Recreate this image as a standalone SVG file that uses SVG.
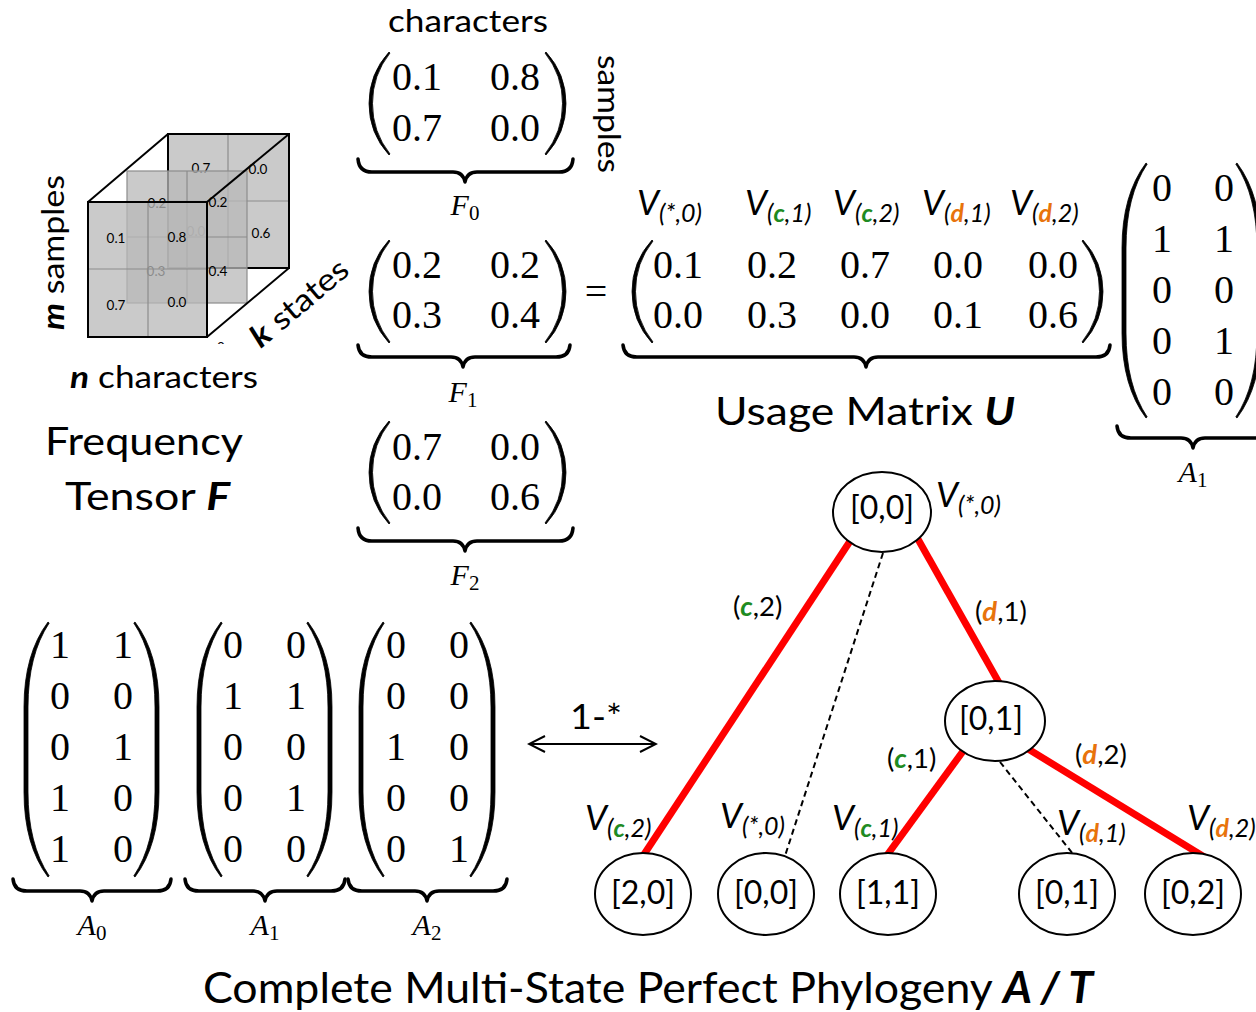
<svg xmlns="http://www.w3.org/2000/svg" xmlns:xlink="http://www.w3.org/1999/xlink" width="1256" height="1012" viewBox="0 0 1256 1012">
<style>
  text { fill: #000; }
  .s { font-family: Lato, "Open Sans", sans-serif; }
  .num { font-family: "Liberation Serif", serif; font-size: 40px; text-anchor: middle; }
  .lab { font-family: "Liberation Serif", serif; font-style: italic; font-size: 30px; text-anchor: middle; }
  .lab .sb { font-style: normal; font-size: 21px; }
  .v { font-family: Lato, "Open Sans", sans-serif; font-style: italic; font-size: 35px; }
  .v .sb { font-size: 25px; }
  .cg { fill: #1e8b22; font-weight: bold; font-style: italic; }
  .do { fill: #e8730c; font-weight: bold; font-style: italic; }
  .bi { font-weight: bold; font-style: italic; }
  .edge { font-family: Lato, "Open Sans", sans-serif; font-size: 27.5px; }
  .red { stroke: #ff0000; stroke-width: 7; fill: none; }
  .dash { stroke: #000; stroke-width: 2; stroke-dasharray: 6 4; fill: none; }
  .node ellipse { fill: #fff; stroke: #000; stroke-width: 2; }
  .nt { font-family: Lato, "Open Sans", sans-serif; font-size: 33px; text-anchor: middle; }
  .brace { fill: none; stroke: #000; stroke-width: 3.5; stroke-linecap: round; stroke-linejoin: round; }
  .paren { fill: #000; stroke: #000; stroke-width: 0.8; }
  .face { fill: #b8b8b8; fill-opacity: 0.75; }
  .grid { stroke: #8c8c8c; stroke-width: 1.2; fill: none; }
  .cn { font-family: Lato, "Open Sans", sans-serif; font-size: 13.5px; text-anchor: middle; }
  .edgeline { stroke: #000; stroke-width: 2; fill: none; }
</style>
<defs>
  <!-- tall round brackets: tip at the origin, bulging to the left -->
  <path id="pL2" d="M0,0 Q-20,22 -20,51.5 Q-20,81 0,103 L1,102 Q-16.5,80 -16.5,51.5 Q-16.5,23 1,1 Z"/>
  <path id="pL5" d="M0,0 Q-24,32 -24,85 L-24,170 Q-24,223 0,255 L1.2,254 Q-20,222 -20,170 L-20,85 Q-20,33 1.2,1 Z"/>
  <marker id="chev" viewBox="0 0 20 20" refX="18" refY="10" markerWidth="20" markerHeight="20" markerUnits="userSpaceOnUse" orient="auto-start-reverse">
    <path d="M2,2 L18,10 L2,18" fill="none" stroke="#000" stroke-width="2"/>
  </marker>
  <clipPath id="clipZero"><rect x="212" y="338" width="18" height="6"/></clipPath>
</defs>

<!-- frequency tensor drawn as three stacked slices -->
<g id="tensor">
  <g id="slice-back">
    <rect class="face" x="168" y="134" width="121" height="134"/>
    <line class="grid" x1="228" y1="134" x2="228" y2="268"/>
    <line class="grid" x1="168" y1="201" x2="289" y2="201"/>
    <rect x="168" y="134" width="121" height="134" fill="none" stroke="#000" stroke-width="2"/>
    <text class="cn" x="201" y="173">0.7</text>
    <text class="cn" x="258" y="174">0.0</text>
    <text class="cn" x="196" y="236">0.0</text>
    <text class="cn" x="261" y="238">0.6</text>
  </g>
  <g id="slice-mid">
    <rect class="face" x="127" y="171" width="120" height="132"/>
    <line class="grid" x1="187" y1="171" x2="187" y2="303"/>
    <line class="grid" x1="127" y1="237" x2="247" y2="237"/>
    <rect class="grid" x="127" y="171" width="120" height="132"/>
    <text class="cn" x="157" y="208">0.2</text>
    <text class="cn" x="218" y="207">0.2</text>
    <text class="cn" x="156" y="276">0.3</text>
    <text class="cn" x="218" y="276">0.4</text>
  </g>
  <g id="slice-front">
    <rect class="face" x="88" y="202" width="119" height="135"/>
    <line class="grid" x1="148" y1="202" x2="148" y2="337"/>
    <line class="grid" x1="88" y1="269" x2="207" y2="269"/>
    <rect x="88" y="202" width="119" height="135" fill="none" stroke="#000" stroke-width="2"/>
    <text class="cn" x="116" y="243">0.1</text>
    <text class="cn" x="177" y="242">0.8</text>
    <text class="cn" x="116" y="310">0.7</text>
    <text class="cn" x="177" y="307">0.0</text>
  </g>
  <text class="cn" x="221" y="352" clip-path="url(#clipZero)">0</text>
  <g stroke="#000" stroke-width="2">
    <line x1="88" y1="202" x2="168" y2="134"/>
    <line x1="207" y1="202" x2="289" y2="134"/>
    <line x1="207" y1="337" x2="289" y2="268"/>
  </g>
  <text class="s" font-size="31" transform="translate(64,330) rotate(-90)" textLength="155" lengthAdjust="spacingAndGlyphs"><tspan class="bi">m</tspan> samples</text>
  <text class="s" font-size="31" text-anchor="middle" transform="translate(306,311) rotate(-40)" textLength="118" lengthAdjust="spacingAndGlyphs"><tspan class="bi">k</tspan> states</text>
  <text class="s" font-size="31" x="70" y="388" textLength="188" lengthAdjust="spacingAndGlyphs"><tspan class="bi">n</tspan> characters</text>
  <text class="s" font-size="39" x="45" y="455" textLength="198" lengthAdjust="spacingAndGlyphs">Frequency</text>
  <text class="s" font-size="39" x="65" y="510" textLength="165" lengthAdjust="spacingAndGlyphs">Tensor <tspan class="bi">F</tspan></text>
</g>

<!-- slices F0, F1, F2 -->
<g id="F0">
  <text class="s" font-size="31" x="388" y="32" textLength="160" lengthAdjust="spacingAndGlyphs">characters</text>
  <text class="s" font-size="31" transform="translate(598,55) rotate(90)" textLength="118" lengthAdjust="spacingAndGlyphs">samples</text>
  <use href="#pL2" class="paren" transform="translate(389,52)"/>
  <use href="#pL2" class="paren" transform="translate(546,52) scale(-1,1)"/>
  <text class="num" x="417" y="90">0.1</text><text class="num" x="515" y="90">0.8</text>
  <text class="num" x="417" y="141">0.7</text><text class="num" x="515" y="141">0.0</text>
  <path class="brace" d="M358,159 Q359,172 372,172 L453,172 Q463,172 465,182 Q467,172 477,172 L559,172 Q572,172 573,159"/>
  <text class="lab" x="465" y="215">F<tspan class="sb" dy="5">0</tspan></text>
</g>
<g id="F1">
  <use href="#pL2" class="paren" transform="translate(389,240)"/>
  <use href="#pL2" class="paren" transform="translate(546,240) scale(-1,1)"/>
  <text class="num" x="417" y="278">0.2</text><text class="num" x="515" y="278">0.2</text>
  <text class="num" x="417" y="328">0.3</text><text class="num" x="515" y="328">0.4</text>
  <path class="brace" d="M358,345 Q359,357 372,357 L451,357 Q461,357 463,367 Q465,357 475,357 L556,357 Q569,357 570,345"/>
  <text class="lab" x="463" y="402">F<tspan class="sb" dy="5">1</tspan></text>
</g>
<g id="F2">
  <use href="#pL2" class="paren" transform="translate(389,421)"/>
  <use href="#pL2" class="paren" transform="translate(546,421) scale(-1,1)"/>
  <text class="num" x="417" y="460">0.7</text><text class="num" x="515" y="460">0.0</text>
  <text class="num" x="417" y="510">0.0</text><text class="num" x="515" y="510">0.6</text>
  <path class="brace" d="M358,528 Q359,541 372,541 L453,541 Q463,541 465,551 Q467,541 477,541 L559,541 Q572,541 573,528"/>
  <text class="lab" x="465" y="585">F<tspan class="sb" dy="5">2</tspan></text>
</g>

<text id="equals" class="num" x="596" y="305" font-size="44">=</text>

<!-- usage matrix U -->
<g id="U">
  <text class="v" x="637" y="215">V<tspan class="sb" dy="7">(*,0)</tspan></text>
  <text class="v" x="745" y="215">V<tspan class="sb" dy="7">(<tspan class="cg">c</tspan>,1)</tspan></text>
  <text class="v" x="833" y="215">V<tspan class="sb" dy="7">(<tspan class="cg">c</tspan>,2)</tspan></text>
  <text class="v" x="922" y="215">V<tspan class="sb" dy="7">(<tspan class="do">d</tspan>,1)</tspan></text>
  <text class="v" x="1010" y="215">V<tspan class="sb" dy="7">(<tspan class="do">d</tspan>,2)</tspan></text>
  <use href="#pL2" class="paren" transform="translate(652,240)"/>
  <use href="#pL2" class="paren" transform="translate(1083,240) scale(-1,1)"/>
  <text class="num" x="678" y="278">0.1</text><text class="num" x="772" y="278">0.2</text><text class="num" x="865" y="278">0.7</text><text class="num" x="958" y="278">0.0</text><text class="num" x="1053" y="278">0.0</text>
  <text class="num" x="678" y="328">0.0</text><text class="num" x="772" y="328">0.3</text><text class="num" x="865" y="328">0.0</text><text class="num" x="958" y="328">0.1</text><text class="num" x="1053" y="328">0.6</text>
  <path class="brace" d="M623,345 Q624,357 637,357 L854,357 Q864,357 866,367 Q868,357 878,357 L1096,357 Q1109,357 1110,345"/>
  <text class="s" font-size="39" x="715" y="425" textLength="300" lengthAdjust="spacingAndGlyphs">Usage Matrix <tspan class="bi">U</tspan></text>
</g>

<!-- A1 beside the product -->
<g id="A1-top">
  <use href="#pL5" class="paren" transform="translate(1146,163)"/>
  <use href="#pL5" class="paren" transform="translate(1237,163) scale(-1,1)"/>
  <text class="num" x="1162" y="201">0</text><text class="num" x="1224" y="201">0</text>
  <text class="num" x="1162" y="252">1</text><text class="num" x="1224" y="252">1</text>
  <text class="num" x="1162" y="303">0</text><text class="num" x="1224" y="303">0</text>
  <text class="num" x="1162" y="354">0</text><text class="num" x="1224" y="354">1</text>
  <text class="num" x="1162" y="405">0</text><text class="num" x="1224" y="405">0</text>
  <path class="brace" d="M1117,426 Q1118,438 1131,438 L1181,438 Q1191,438 1193,448 Q1195,438 1205,438 L1256,438 Q1269,438 1270,426"/>
  <text class="lab" x="1193" y="482">A<tspan class="sb" dy="5">1</tspan></text>
</g>

<!-- A0, A1, A2 -->
<g id="A0">
  <use href="#pL5" class="paren" transform="translate(48,622)"/>
  <use href="#pL5" class="paren" transform="translate(135,622) scale(-1,1)"/>
  <text class="num" x="60" y="658">1</text><text class="num" x="123" y="658">1</text>
  <text class="num" x="60" y="709">0</text><text class="num" x="123" y="709">0</text>
  <text class="num" x="60" y="760">0</text><text class="num" x="123" y="760">1</text>
  <text class="num" x="60" y="811">1</text><text class="num" x="123" y="811">0</text>
  <text class="num" x="60" y="862">1</text><text class="num" x="123" y="862">0</text>
  <path class="brace" d="M13,879 Q14,891 27,891 L80,891 Q90,891 92,901 Q94,891 104,891 L157,891 Q170,891 171,879"/>
  <text class="lab" x="92" y="935">A<tspan class="sb" dy="5">0</tspan></text>
</g>
<g id="A1">
  <use href="#pL5" class="paren" transform="translate(221,622)"/>
  <use href="#pL5" class="paren" transform="translate(308,622) scale(-1,1)"/>
  <text class="num" x="233" y="658">0</text><text class="num" x="296" y="658">0</text>
  <text class="num" x="233" y="709">1</text><text class="num" x="296" y="709">1</text>
  <text class="num" x="233" y="760">0</text><text class="num" x="296" y="760">0</text>
  <text class="num" x="233" y="811">0</text><text class="num" x="296" y="811">1</text>
  <text class="num" x="233" y="862">0</text><text class="num" x="296" y="862">0</text>
  <path class="brace" d="M185,879 Q186,891 199,891 L253,891 Q263,891 265,901 Q267,891 277,891 L331,891 Q344,891 345,879"/>
  <text class="lab" x="265" y="935">A<tspan class="sb" dy="5">1</tspan></text>
</g>
<g id="A2">
  <use href="#pL5" class="paren" transform="translate(383,622)"/>
  <use href="#pL5" class="paren" transform="translate(471,622) scale(-1,1)"/>
  <text class="num" x="396" y="658">0</text><text class="num" x="459" y="658">0</text>
  <text class="num" x="396" y="709">0</text><text class="num" x="459" y="709">0</text>
  <text class="num" x="396" y="760">1</text><text class="num" x="459" y="760">0</text>
  <text class="num" x="396" y="811">0</text><text class="num" x="459" y="811">0</text>
  <text class="num" x="396" y="862">0</text><text class="num" x="459" y="862">1</text>
  <path class="brace" d="M348,879 Q349,891 362,891 L415,891 Q425,891 427,901 Q429,891 439,891 L493,891 Q506,891 507,879"/>
  <text class="lab" x="427" y="935">A<tspan class="sb" dy="5">2</tspan></text>
</g>

<g id="correspondence">
  <text class="s" font-size="35" x="570" y="729" textLength="52" lengthAdjust="spacingAndGlyphs">1-*</text>
  <line class="edgeline" x1="529" y1="744" x2="656" y2="744" marker-start="url(#chev)" marker-end="url(#chev)"/>
</g>

<!-- tree edges -->
<g id="connectors">
  <line class="red" x1="860" y1="526" x2="641" y2="859"/>
  <line class="red" x1="910" y1="525" x2="1002" y2="688"/>
  <line class="dash" x1="883" y1="553" x2="785" y2="856"/>
  <line class="red" x1="969" y1="743" x2="885" y2="858"/>
  <line class="red" x1="1020" y1="744" x2="1206" y2="858"/>
  <line class="dash" x1="1000" y1="762" x2="1073" y2="854"/>
  <text class="edge" x="733" y="616">(<tspan class="cg">c</tspan>,2)</text>
  <text class="edge" x="975" y="621">(<tspan class="do">d</tspan>,1)</text>
  <text class="edge" x="887" y="768">(<tspan class="cg">c</tspan>,1)</text>
  <text class="edge" x="1075" y="764">(<tspan class="do">d</tspan>,2)</text>
</g>

<!-- tree nodes -->
<g id="node-root" class="node">
  <ellipse cx="882" cy="512" rx="49" ry="40"/>
  <text class="nt" x="882" y="519" textLength="64" lengthAdjust="spacingAndGlyphs">[0,0]</text>
  <text class="v" x="936" y="507">V<tspan class="sb" dy="7">(*,0)</tspan></text>
</g>
<g id="node-01" class="node">
  <ellipse cx="995" cy="721" rx="50" ry="40"/>
  <text class="nt" x="991" y="730" textLength="64" lengthAdjust="spacingAndGlyphs">[0,1]</text>
</g>
<g id="leaf-20" class="node">
  <ellipse cx="643" cy="894" rx="48" ry="41"/>
  <text class="nt" x="643" y="904" textLength="64" lengthAdjust="spacingAndGlyphs">[2,0]</text>
  <text class="v" x="585" y="830">V<tspan class="sb" dy="7">(<tspan class="cg">c</tspan>,2)</tspan></text>
</g>
<g id="leaf-00" class="node">
  <ellipse cx="766" cy="894" rx="48" ry="41"/>
  <text class="nt" x="766" y="904" textLength="64" lengthAdjust="spacingAndGlyphs">[0,0]</text>
  <text class="v" x="720" y="828">V<tspan class="sb" dy="7">(*,0)</tspan></text>
</g>
<g id="leaf-11" class="node">
  <ellipse cx="888" cy="894" rx="48" ry="41"/>
  <text class="nt" x="888" y="904" textLength="64" lengthAdjust="spacingAndGlyphs">[1,1]</text>
  <text class="v" x="832" y="830">V<tspan class="sb" dy="7">(<tspan class="cg">c</tspan>,1)</tspan></text>
</g>
<g id="leaf-01" class="node">
  <ellipse cx="1067" cy="894" rx="48" ry="41"/>
  <text class="nt" x="1067" y="904" textLength="64" lengthAdjust="spacingAndGlyphs">[0,1]</text>
  <text class="v" x="1057" y="835">V<tspan class="sb" dy="7">(<tspan class="do">d</tspan>,1)</tspan></text>
</g>
<g id="leaf-02" class="node">
  <ellipse cx="1193" cy="894" rx="48" ry="41"/>
  <text class="nt" x="1193" y="904" textLength="64" lengthAdjust="spacingAndGlyphs">[0,2]</text>
  <text class="v" x="1187" y="830">V<tspan class="sb" dy="7">(<tspan class="do">d</tspan>,2)</tspan></text>
</g>

<text id="title" class="s" font-size="43" x="203" y="1003" textLength="890" lengthAdjust="spacingAndGlyphs">Complete Multi-State Perfect Phylogeny <tspan class="bi">A / T</tspan></text>
</svg>
